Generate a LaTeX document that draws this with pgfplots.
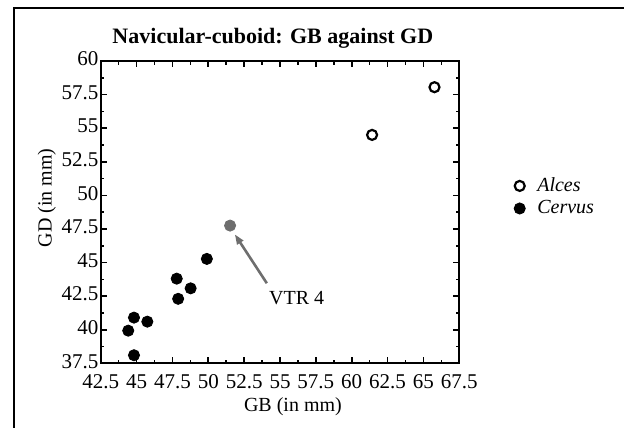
\documentclass[border=0pt]{standalone}
\usepackage{pgfplots}
\pgfplotsset{compat=1.18}
\usepackage{fontspec}
\setmainfont{Liberation Serif}
\usetikzlibrary{arrows.meta}

\definecolor{vtrgray}{RGB}{110,110,110}

\begin{document}
\begin{tikzpicture}
\begin{axis}[
    name=ax,
    at={(0,0)}, anchor=south west,
    scale only axis,
    width=179.3pt, height=151.15pt,
    xmin=42.5, xmax=67.5, ymin=37.5, ymax=60,
    xtick={42.5,45,47.5,50,52.5,55,57.5,60,62.5,65,67.5},
    xticklabels={42.5,45,47.5,50,52.5,55,57.5,60,62.5,65,67.5},
    ytick={37.5,40,42.5,45,47.5,50,52.5,55,57.5,60},
    yticklabels={37.5,40,42.5,45,47.5,50,52.5,55,57.5,60},
    minor tick num=1,
    tick align=inside,
    major tick length=3pt, minor tick length=1.8pt,
    axis line style={line width=1pt},
    tick style={black, line width=0.8pt},
    ticklabel style={font=\fontsize{10.5}{12}\selectfont},
    xticklabel style={inner xsep=0pt, yshift=-2pt},
    yticklabel style={inner xsep=1pt, yshift=1pt},
    /pgf/number format/assume math mode=true,
    xlabel={GB (in mm)},
    ylabel={GD (in mm)},
    label style={font=\fontsize{10}{12}\selectfont},
    xlabel style={at={(axis description cs:0.536,-0.145)}, anchor=center},
    ylabel style={at={(axis description cs:-0.15,0.547)}, anchor=center},
    legend style={at={(axis description cs:1.135,0.55)}, anchor=west,
        draw=none, fill=none, font=\fontsize{10}{12}\selectfont\itshape,
        row sep=-1pt, /tikz/every odd column/.append style={column sep=4pt}},
    legend cell align=left,
    clip=false,
]
\addplot[only marks, mark=o, mark size=2.5pt, mark options={line width=1.1pt, black}]
    coordinates {(65.77,58.05) (61.42,54.5)};
\addlegendentry{Alces}
\addplot[only marks, mark=*, mark size=2.8pt, mark options={black, fill=black}]
    coordinates {(44.42,39.93) (44.82,40.9) (45.75,40.6) (44.82,38.1)
                 (47.8,43.8) (47.9,42.3) (48.77,43.08) (49.9,45.27)};
\addlegendentry{Cervus}
\addplot[only marks, forget plot, mark=*, mark size=2.8pt, mark options={vtrgray, fill=vtrgray}]
    coordinates {(51.52,47.75)};

\draw[-{Triangle[length=5pt,width=3.5pt]}, line width=1.3pt, vtrgray]
    (axis cs:54.08,43.46) -- (axis cs:51.85,47.1);
\node[font=\fontsize{10}{12}\selectfont] at (axis cs:56.16,42.34) {VTR 4};
\node[font=\fontsize{11}{12}\selectfont\bfseries] at (axis description cs:0.48,1.076)
    {Navicular-cuboid: GB against GD};
\end{axis}
\path[use as bounding box] (-50.35pt,-31.85pt) rectangle (261.65pt,181.65pt);
\draw[line width=0.6pt] (-43.35pt,-40pt) -- (-43.35pt,177.65pt) -- (270pt,177.65pt);
\end{tikzpicture}
\end{document}
